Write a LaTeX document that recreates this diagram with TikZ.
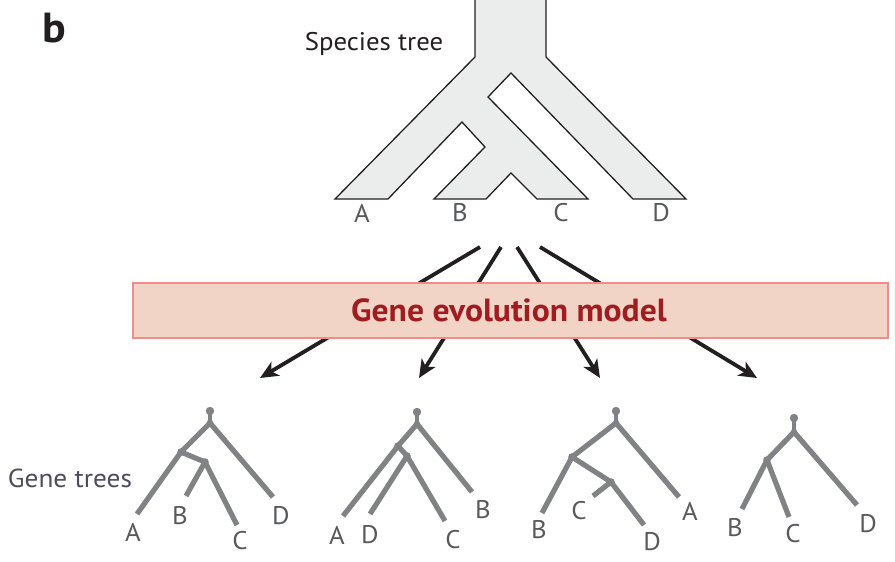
\documentclass[tikz,border=0pt]{standalone}
\usepackage{fontspec}
\setmainfont[FakeStretch=1.05]{PT Sans}
\usetikzlibrary{arrows.meta}
\definecolor{sptfill}{RGB}{235,236,236}
\definecolor{lblgray}{RGB}{88,89,91}
\definecolor{treegray}{RGB}{128,130,133}
\definecolor{boxfill}{RGB}{242,212,198}
\definecolor{boxline}{RGB}{240,140,140}
\definecolor{boxtext}{RGB}{160,28,32}
\definecolor{slate}{RGB}{77,77,92}
\definecolor{inkblack}{RGB}{35,31,32}
\tikzset{
  lbl/.style={inner sep=0pt, text=lblgray, font=\fontsize{25.5}{25.5}\selectfont},
  gbranch/.style={draw=treegray, line width=5.2pt, line cap=butt, line join=round},
  gstem/.style={draw=treegray, line width=3.5pt},
  gdot/.style={fill=treegray},
  flow/.style={draw=inkblack, line width=3.8pt, -{Stealth[length=18pt,width=16pt,inset=5pt]}},
}
\begin{document}
\begin{tikzpicture}[x=1pt,y=-1pt]
\useasboundingbox (0,0) rectangle (895,562);
% panel letter and title
\node[inner sep=0pt, anchor=base, text=inkblack, font=\fontsize{42}{42}\selectfont\bfseries] (panel) at (54,42) {b};
\node[inner sep=0pt, anchor=base, text=inkblack, font=\fontsize{25.5}{25.5}\selectfont] (sptitle) at (374,50) {Species tree};
% species tree
\fill[sptfill] (475,0) -- (475,57) -- (335,199) -- (388,199) -- (462,122) -- (485,147) -- (434,199) -- (486,199) -- (511,173) -- (537,199) -- (588,199) -- (488,97) -- (511,73) -- (633,199) -- (686,199) -- (546,57) -- (546,-2) -- cycle;
\draw[draw=inkblack, line width=1.3pt, line join=miter] (475,-2) -- (475,57) -- (335,199) -- (388,199) -- (462,122) -- (485,147) -- (434,199) -- (486,199) -- (511,173) -- (537,199) -- (588,199) -- (488,97) -- (511,73) -- (633,199) -- (686,199) -- (546,57) -- (546,-2);
\node[lbl] (sA) at (362,213) {A};
\node[lbl] (sB) at (460,213) {B};
\node[lbl] (sC) at (561,213) {C};
\node[lbl] (sD) at (661,213) {D};
% arrows
\coordinate (a1s) at (480,247); \coordinate (a1e) at (260,378);
\coordinate (a2s) at (501,247); \coordinate (a2e) at (419,378);
\coordinate (a3s) at (517,247); \coordinate (a3e) at (600,378);
\coordinate (a4s) at (540,247); \coordinate (a4e) at (757,378);
\draw[flow] (a1s) -- (a1e);
\draw[flow] (a2s) -- (a2e);
\draw[flow] (a3s) -- (a3e);
\draw[flow] (a4s) -- (a4e);
% model box
\node[draw=boxline, fill=boxfill, line width=1.5pt, minimum width=755pt, minimum height=55pt, inner sep=0pt] (model) at (510.5,310.5) {};
\node[inner sep=0pt, anchor=base, text=boxtext, font=\fontsize{32}{32}\selectfont\bfseries] (modeltxt) at (509,321) {Gene evolution model};
% gene trees label
\node[inner sep=0pt, anchor=base, text=slate, font=\fontsize{26}{26}\selectfont] (gtl) at (70,487) {Gene trees};
% gene tree 1
\coordinate (r1) at (210,411); \coordinate (s1) at (210,423);
\coordinate (p11) at (181,452); \coordinate (p12) at (205,462);
\coordinate (t1A) at (137,514); \coordinate (t1B) at (186,496);
\coordinate (t1C) at (237,525); \coordinate (t1D) at (273,497);
\draw[gstem] (r1) -- (s1);
\fill[gdot] (r1) circle (4.2);
\draw[gbranch] (t1A) -- (p11) -- (s1) -- (t1D);
\draw[gbranch] (p11) -- (p12) -- (t1C);
\draw[gbranch] (t1B) -- (p12);
\fill[gdot] (p11) circle (3.8); \fill[gdot] (p12) circle (3.8); \fill[gdot] (s1) circle (3.3);
\node[lbl] (l1A) at (133,532) {A};
\node[lbl] (l1B) at (180,516) {B};
\node[lbl] (l1C) at (240,541) {C};
\node[lbl] (l1D) at (281,516) {D};
% gene tree 2
\coordinate (r2) at (417,412); \coordinate (s2) at (417,424);
\coordinate (p21) at (398,446); \coordinate (p22) at (407,456);
\coordinate (t2A) at (343,516); \coordinate (t2D) at (370,514);
\coordinate (t2C) at (445,521); \coordinate (t2B) at (472,492);
\draw[gstem] (r2) -- (s2);
\fill[gdot] (r2) circle (4.2);
\draw[gbranch] (t2A) -- (p21) -- (s2) -- (t2B);
\draw[gbranch] (p21) -- (p22) -- (t2C);
\draw[gbranch] (t2D) -- (p22);
\fill[gdot] (p21) circle (3.8); \fill[gdot] (p22) circle (3.8); \fill[gdot] (s2) circle (3.3);
\node[lbl] (l2A) at (337,535) {A};
\node[lbl] (l2D) at (370,535) {D};
\node[lbl] (l2C) at (453,540) {C};
\node[lbl] (l2B) at (483,510) {B};
% gene tree 3
\coordinate (r3) at (616,411); \coordinate (s3) at (616,423);
\coordinate (p31) at (572,457); \coordinate (p32) at (611,482);
\coordinate (t3B) at (542,513); \coordinate (t3C) at (593,496);
\coordinate (t3D) at (644,525); \coordinate (t3A) at (679,497);
\draw[gstem] (r3) -- (s3);
\fill[gdot] (r3) circle (4.2);
\draw[gbranch] (t3B) -- (p31) -- (s3) -- (t3A);
\draw[gbranch] (p31) -- (p32) -- (t3D);
\draw[gbranch] (t3C) -- (p32);
\fill[gdot] (p31) circle (3.8); \fill[gdot] (p32) circle (3.8); \fill[gdot] (s3) circle (3.3);
\node[lbl] (l3B) at (539,530) {B};
\node[lbl] (l3C) at (579,511) {C};
\node[lbl] (l3D) at (652,542) {D};
\node[lbl] (l3A) at (690,511) {A};
% gene tree 4
\coordinate (r4) at (794,418); \coordinate (s4) at (794,432);
\coordinate (p41) at (767,460);
\coordinate (t4B) at (742,509); \coordinate (t4C) at (789,517); \coordinate (t4D) at (857,505);
\draw[gstem] (r4) -- (s4);
\fill[gdot] (r4) circle (4.2);
\draw[gbranch] (t4B) -- (p41) -- (s4) -- (t4D);
\draw[gbranch] (p41) -- (t4C);
\fill[gdot] (p41) circle (3.8); \fill[gdot] (s4) circle (3.3);
\node[lbl] (l4B) at (735,528) {B};
\node[lbl] (l4C) at (793,534) {C};
\node[lbl] (l4D) at (868,524) {D};
\end{tikzpicture}
\end{document}
